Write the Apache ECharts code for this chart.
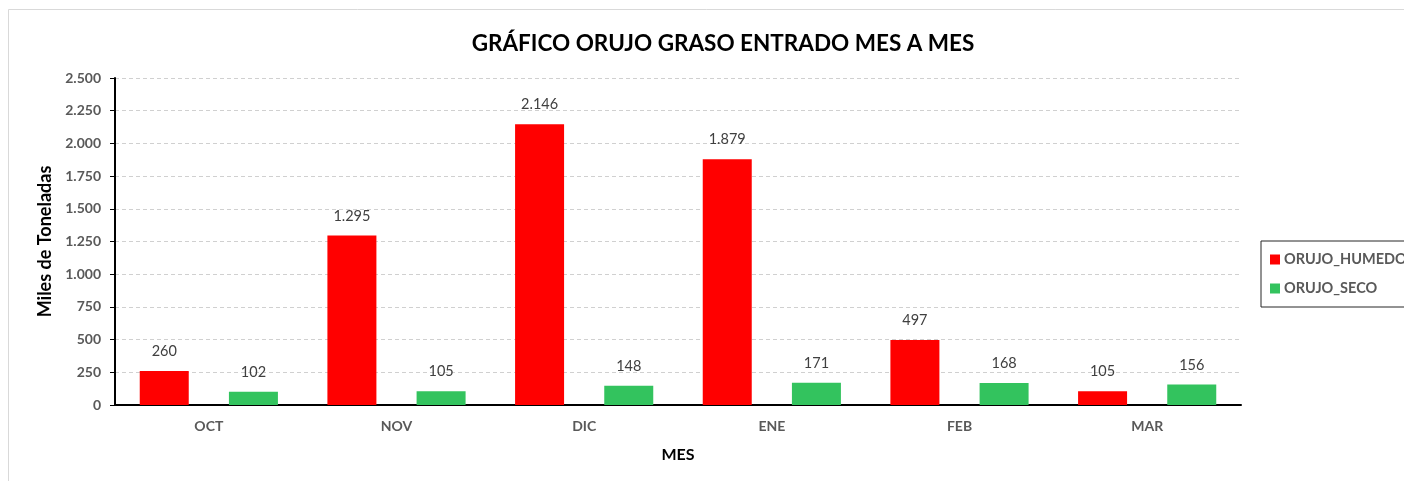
<!DOCTYPE html>
<html>
<head>
<meta charset="utf-8">
<script src="https://cdn.jsdelivr.net/npm/echarts@6/dist/echarts.min.js"></script>
<style>
  html, body { margin: 0; padding: 0; background: #fff; }
  #chart { width: 1404px; height: 481px; }
</style>
</head>
<body>
<div id="chart"></div>
<script>
// meses
const meses = ['OCT', 'NOV', 'DIC', 'ENE', 'FEB', 'MAR'];
// miles de toneladas
const orujoHumedo = [260, 1295, 2146, 1879, 497, 105];
const orujoSeco = [102, 105, 148, 171, 168, 156];
const yTicks = [0, 250, 500, 750, 1000, 1250, 1500, 1750, 2000, 2250, 2500];

const FONT = 'Lato, "Open Sans", sans-serif';

// 2500 -> 2.500
const fmt = v => String(v).replace(/\B(?=(\d{3})+(?!\d))/g, '.');

const chart = echarts.init(document.getElementById('chart'));

const barLabel = {
  show: true,
  position: 'top',
  distance: 12,
  color: '#404040',
  fontSize: 14.5,
  fontFamily: FONT,
  formatter: p => fmt(p.value)
};

const option = {
  backgroundColor: '#fff',
  animation: false,
  textStyle: { fontFamily: FONT },
  graphic: [{
    type: 'rect',
    shape: { x: 8.5, y: 9.5, width: 1500, height: 600 },
    style: { fill: 'none', stroke: '#d9d9d9', lineWidth: 1 },
    silent: true,
    z: -10
  }],
  title: {
    text: 'GRÁFICO ORUJO GRASO ENTRADO MES A MES',
    left: 718,
    textAlign: 'center',
    top: 27,
    textStyle: { fontFamily: FONT, fontSize: 22.5, fontWeight: 'bold', color: '#000' }
  },
  legend: {
    orient: 'vertical',
    left: 1261,
    top: 241,
    padding: [11, 60, 11, 9],
    itemWidth: 10,
    itemHeight: 10,
    itemGap: 14,
    borderColor: '#262626',
    borderWidth: 1,
    icon: 'rect',
    textStyle: { fontFamily: FONT, fontSize: 14.5, fontWeight: 'bold', color: '#595959', padding: [0, 0, 0, -1] },
    data: ['ORUJO_HUMEDO', 'ORUJO_SECO']
  },
  grid: { left: 115, right: 163, top: 78, bottom: 76 },
  xAxis: {
    type: 'category',
    data: meses,
    name: 'MES',
    nameLocation: 'middle',
    nameGap: 42,
    nameTextStyle: { fontFamily: FONT, fontSize: 16, fontWeight: 'bold', color: '#000' },
    axisLine: { lineStyle: { color: '#000', width: 2 } },
    axisTick: { show: false },
    axisLabel: { margin: 14, fontFamily: FONT, fontSize: 14, fontWeight: 'bold', color: '#595959' }
  },
  yAxis: {
    type: 'value',
    min: yTicks[0],
    max: yTicks[yTicks.length - 1],
    interval: 250,
    name: 'Miles de Toneladas',
    nameLocation: 'middle',
    nameGap: 61,
    nameTextStyle: { fontFamily: FONT, fontSize: 18, fontWeight: 'bold', color: '#000' },
    axisLine: { show: true, lineStyle: { color: '#000', width: 2 } },
    axisTick: { show: true, length: 5, lineStyle: { color: '#000' } },
    axisLabel: { margin: 14, fontFamily: FONT, fontSize: 14, fontWeight: 'bold', color: '#595959', formatter: fmt },
    splitLine: { lineStyle: { color: '#d0d0d0', type: [4, 3] } }
  },
  series: [
    {
      name: 'ORUJO_HUMEDO',
      type: 'bar',
      data: orujoHumedo,
      barWidth: 49,
      barGap: '82%',
      itemStyle: { color: '#ff0000' },
      label: barLabel
    },
    {
      name: 'ORUJO_SECO',
      type: 'bar',
      data: orujoSeco,
      barWidth: 49,
      itemStyle: { color: '#33c35e' },
      label: barLabel
    }
  ]
};

chart.setOption(option);
</script>
</body>
</html>
